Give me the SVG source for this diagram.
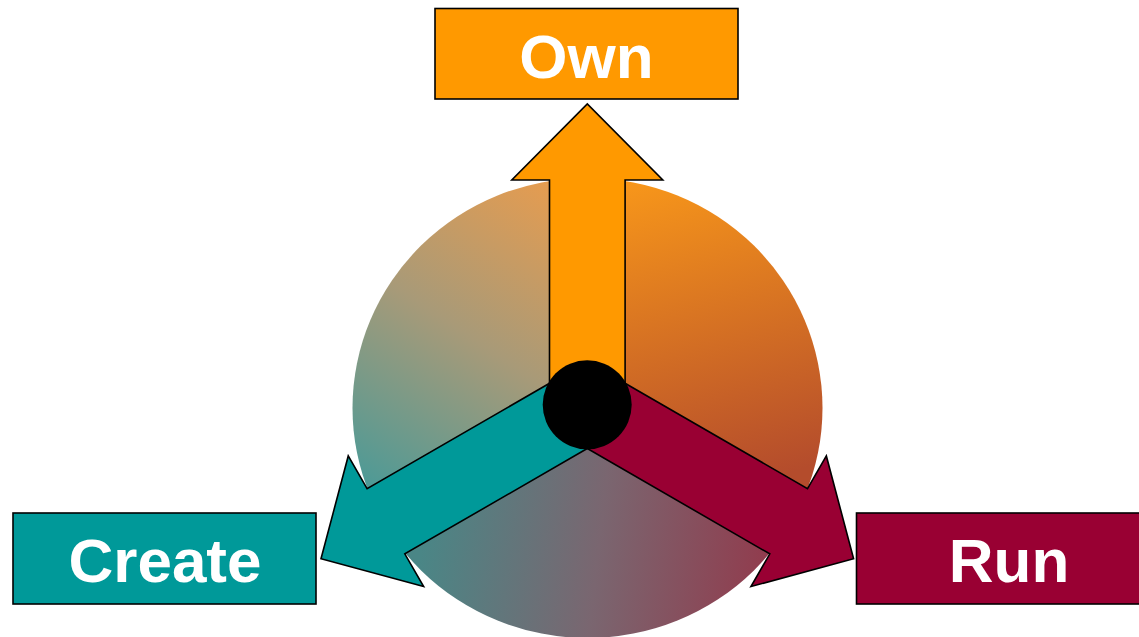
<svg xmlns="http://www.w3.org/2000/svg" width="1139" height="637" viewBox="0 0 1139 637">
  <defs>
    <clipPath id="disc">
      <ellipse cx="587.5" cy="408" rx="235" ry="230"/>
    </clipPath>
    <linearGradient id="gUL" gradientUnits="userSpaceOnUse" x1="560" y1="180" x2="360" y2="480">
      <stop offset="0" stop-color="#E89C4E"/>
      <stop offset="0.5" stop-color="#A89A78"/>
      <stop offset="1" stop-color="#4E9A96"/>
    </linearGradient>
    <linearGradient id="gUR" gradientUnits="userSpaceOnUse" x1="640" y1="180" x2="720" y2="490">
      <stop offset="0" stop-color="#F7961A"/>
      <stop offset="1" stop-color="#B44C2C"/>
    </linearGradient>
    <linearGradient id="gB" gradientUnits="userSpaceOnUse" x1="420" y1="560" x2="770" y2="600">
      <stop offset="0" stop-color="#4A8686"/>
      <stop offset="0.5" stop-color="#7A6670"/>
      <stop offset="1" stop-color="#923A4C"/>
    </linearGradient>
    <style>
      .arrow { stroke: #000; stroke-width: 1.6; stroke-linejoin: miter; }
      .box { stroke: #000; stroke-width: 1.6; }
      .label { font-family: "Liberation Sans", Arial, sans-serif; font-weight: bold; font-size: 62px; fill: #FFFFFF; text-anchor: middle; }
      .own { fill: #FF9900; }
      .create { fill: #009999; }
      .run { fill: #990033; }
    </style>
  </defs>

  <g id="disc-sectors" clip-path="url(#disc)">
    <polygon points="587.5,405 587.5,-100 -300,-100 -278.5,905" fill="url(#gUL)"/>
    <polygon points="587.5,405 587.5,-100 1500,-100 1453.5,905" fill="url(#gUR)"/>
    <polygon points="587.5,405 -278.5,905 -278.5,1200 1453.5,1200 1453.5,905" fill="url(#gB)"/>
  </g>

  <g id="connectors">
    <polygon id="arrow-own" class="arrow own" transform="translate(587.3,405)"
      points="-37.8,-21.8 -37.8,-225 -75.5,-225 0,-301 75.5,-225 37.8,-225 37.8,-21.8 0,0"/>
    <polygon id="arrow-create" class="arrow create" transform="translate(587.3,405) rotate(240)"
      points="-37.7,-21.8 -37.7,-232.5 -75.4,-232.5 0,-307.5 75.4,-232.5 37.7,-232.5 37.7,-21.8 0,0"/>
    <polygon id="arrow-run" class="arrow run" transform="translate(587.3,405) rotate(120)"
      points="-37.7,-21.8 -37.7,-232.5 -75.4,-232.5 0,-307.5 75.4,-232.5 37.7,-232.5 37.7,-21.8 0,0"/>
  </g>

  <g id="hub">
    <circle cx="587.2" cy="404.8" r="44.5" fill="#000"/>
  </g>

  <g id="node-own">
    <rect class="box own" x="435" y="8.5" width="303" height="90.5"/>
    <text class="label" x="586.5" y="77.7">Own</text>
  </g>
  <g id="node-create">
    <rect class="box create" x="13" y="513" width="303" height="91"/>
    <text class="label" x="165" y="581.7">Create</text>
  </g>
  <g id="node-run">
    <rect class="box run" x="856.5" y="513" width="303" height="91"/>
    <text class="label" x="1009" y="581.7">Run</text>
  </g>
</svg>
